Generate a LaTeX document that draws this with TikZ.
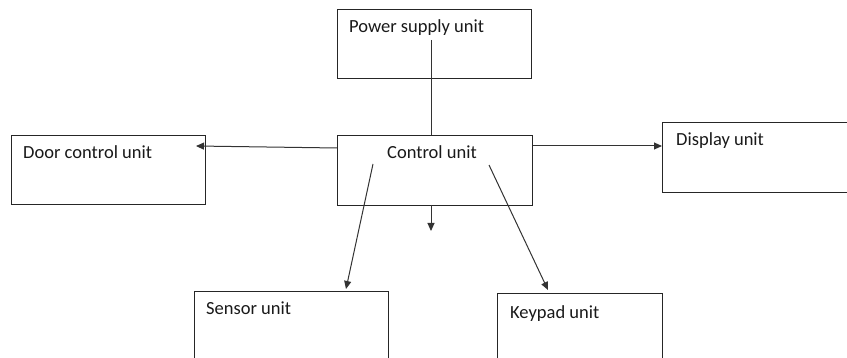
\documentclass[tikz,border=0pt]{standalone}
\usepackage{fontspec}
\setmainfont{Carlito}
\usetikzlibrary{arrows.meta}
\begin{document}
\begin{tikzpicture}[x=1pt,y=-1pt,
  box/.style={draw=black!85,line width=1.1pt,rectangle,inner sep=0pt},
  lbl/.style={anchor=base west,inner sep=0pt,font=\fontsize{18.5}{20}\selectfont,text=black!90},
  conn/.style={draw=black!80,line width=1pt},
  arr/.style={conn,-{Triangle[length=8pt,width=7pt]}}]
\useasboundingbox (0,0) rectangle (847,358);
\clip (0,0) rectangle (847,358);
% boxes
\node[box,minimum width=194pt,minimum height=69pt,anchor=north west] (ps) at (337,9) {};
\node[box,minimum width=195pt,minimum height=70pt,anchor=north west] (cu) at (337,135) {};
\node[box,minimum width=194pt,minimum height=69pt,anchor=north west] (dc) at (11,135) {};
\node[box,minimum width=200pt,minimum height=70pt,anchor=north west] (du) at (662,122) {};
\node[box,minimum width=194pt,minimum height=80pt,anchor=north west] (su) at (194,291) {};
\node[box,minimum width=165pt,minimum height=80pt,anchor=north west] (ku) at (497,293) {};
% labels
\node[lbl] (psl) at (349,33) {Power supply unit};
\node[lbl] (cul) at (387,159) {Control unit};
\node[lbl] (dcl) at (23,159) {Door control unit};
\node[lbl] (dul) at (676,146) {Display unit};
\node[lbl] (sul) at (206,315) {Sensor unit};
\node[lbl] (kul) at (510,319) {Keypad unit};
% connector end points
\coordinate (pstart) at (431,40);
\coordinate (dstart) at (431,205);
\coordinate (dend) at (431,231);
\coordinate (sstart) at (373,164);
\coordinate (kstart) at (489,165);
% connectors
\draw[conn] (pstart) -- (pstart |- cu.north);
\draw[arr] (cu.west |- 0,148) -- (196,146);
\draw[arr] (cu.east |- 0,146) -- (du.west |- 0,146);
\draw[arr] (dstart) -- (dend);
\draw[arr] (sstart) -- (346,289);
\draw[arr] (kstart) -- (548,290);
\end{tikzpicture}
\end{document}
